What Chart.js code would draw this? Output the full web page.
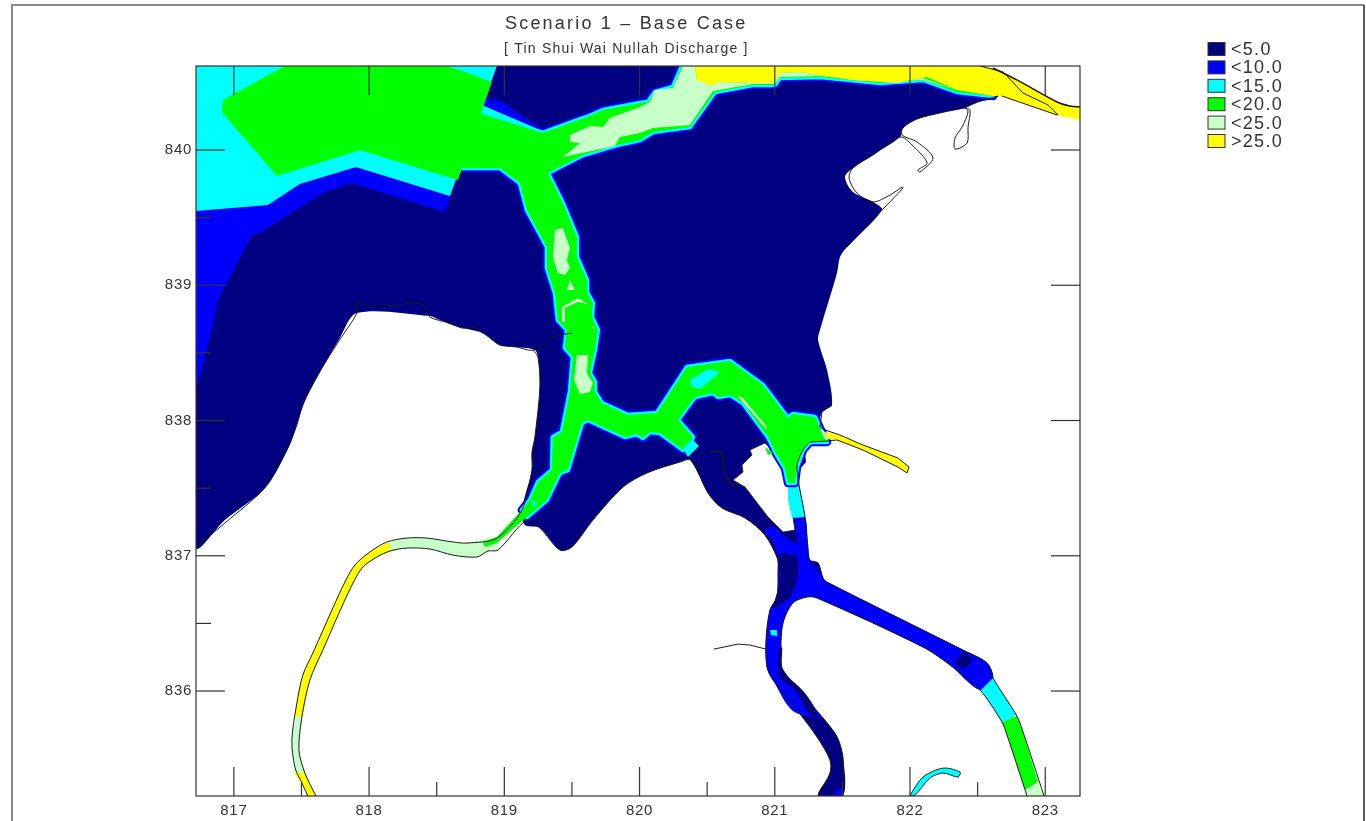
<!DOCTYPE html>
<html lang="en">
<head>
<meta charset="UTF-8">
<title>Scenario 1 - Base Case</title>
<script src="https://cdn.jsdelivr.net/npm/chart.js"></script>
<style>
  html, body { margin: 0; background: #fff; }
  canvas { display: block; }
</style>
</head>
<body>
<canvas id="map" width="1366" height="821"></canvas>
<script>
// Axis ticks
const xMajor = [817, 818, 819, 820, 821, 822, 823];
const xMinor = [817.5, 818.5, 819.5, 820.5, 821.5, 822.5];
const yMajor = [836, 837, 838, 839, 840];
const yMinor = [836.5, 837.5, 838.5, 839.5];

// Legend
const legendLabels = ['<5.0', '<10.0', '<15.0', '<20.0', '<25.0', '>25.0'];
const NAVY = '#000080', BLUE = '#0000ff', CYAN = '#00ffff', GREEN = '#00ff00', PALE = '#c8ffc8', YELLOW = '#ffff00';
const legendColours = [NAVY, BLUE, CYAN, GREEN, PALE, YELLOW];

// Contour bands, [easting, northing]
const seaNavy = [[816.72,840.621],[822.518,840.621],[822.651,840.399],[822.503,840.355],[822.407,840.311],[822.222,840.274],[822.052,840.229],[821.948,840.163],[821.926,840.096],[821.726,839.963],[821.578,839.867],[821.519,839.8],[821.578,839.689],[821.726,839.616],[821.793,839.556],[821.534,839.283],[821.482,839.209],[821.46,839.091],[821.334,838.669],[821.32,838.595],[821.386,838.373],[821.423,838.115],[821.349,838.063],[821.334,837.952],[821.386,837.841],[821.26,837.841],[821.208,837.782],[821.164,837.656],[821.223,837.286],[821.245,837.065],[821.26,836.968],[821.32,836.946],[821.357,836.835],[821.386,836.806],[822.392,836.303],[822.57,836.207],[822.614,836.096],[822.518,836.007],[822.296,836.192],[822.096,836.325],[821.312,836.688],[821.238,836.695],[821.134,836.651],[821.061,836.503],[821.046,836.325],[821.061,836.155],[821.445,835.689],[821.504,835.512],[821.504,835.224],[821.32,835.224],[821.408,835.394],[821.408,835.49],[821.312,835.66],[821.164,835.859],[820.987,836.081],[820.942,836.177],[820.935,836.377],[820.964,836.599],[821.016,836.695],[821.024,836.894],[821.024,836.968],[820.927,837.153],[820.78,837.279],[820.61,837.353],[820.506,837.464],[820.373,837.708],[820.299,837.693],[820.055,837.612],[819.878,837.508],[819.655,837.264],[819.5,837.065],[819.411,837.042],[819.263,837.205],[819.152,837.227],[819.13,837.338],[819.204,837.634],[819.204,837.76],[819.226,837.878],[819.263,838.248],[819.249,838.469],[819.226,838.521],[819.092,838.543],[818.967,838.558],[818.893,838.61],[818.82,838.654],[818.635,838.699],[818.524,838.743],[818.45,838.773],[817.91,838.795],[817.784,838.61],[817.547,838.189],[817.488,838.041],[817.414,837.819],[817.229,837.501],[816.933,837.264],[816.72,837.065]];
const island = [[820.927,837.834],[820.817,837.782],[820.831,837.745],[820.757,837.671],[820.765,837.619],[820.691,837.56],[820.78,837.508],[820.95,837.286],[821.061,837.175],[821.149,837.19],[821.098,837.538],[821.075,837.649],[821.016,837.745]];
const blueRiver = [[821.142,837.286],[821.223,837.286],[821.245,837.065],[821.26,836.968],[821.32,836.946],[821.357,836.835],[821.386,836.806],[822.392,836.303],[822.57,836.207],[822.614,836.096],[822.518,836.007],[822.296,836.192],[822.096,836.325],[821.312,836.688],[821.238,836.695],[821.134,836.651],[821.061,836.503],[821.046,836.325],[821.061,836.155],[821.334,835.815],[821.134,835.852],[820.987,836.081],[820.942,836.177],[820.935,836.377],[820.964,836.599],[821.016,836.695],[821.024,836.894],[821.001,837.079],[820.927,837.19],[821.001,837.212],[821.061,837.153],[821.164,837.094]];
const navyPatchA = [[821.024,837.02],[821.164,836.991],[821.164,836.82],[821.112,836.695],[821.016,836.621],[820.979,836.621],[821.001,836.673],[821.038,836.82]];
const navyPatchB = [[821.024,836.281],[821.053,836.325],[821.061,836.155],[821.223,835.985],[821.32,835.822],[821.26,835.822],[821.149,836.007],[821.038,836.103]];
const navyPatchC = [[822.333,836.207],[822.392,836.288],[822.459,836.229],[822.422,836.177],[822.355,836.177]];
const navyPatchD = [[821.26,836.946],[821.32,836.946],[821.334,836.872]];
const navyPatchE = [[821.208,837.745],[821.223,837.767],[821.231,837.693],[821.179,837.634],[821.164,837.686]];
const cyanSpeck = [[820.964,836.451],[821.016,836.451],[821.016,836.406],[820.972,836.414]];
const blueSpeck = [[821.445,835.268],[821.497,835.283],[821.497,835.231],[821.445,835.231]];
const cyanCreek = [[821.098,837.538],[821.172,837.538],[821.231,837.286],[821.127,837.279],[821.098,837.412]];
const cyanEast = [[822.525,836.007],[822.614,836.096],[822.79,835.822],[822.68,835.771]];
const greenEast = [[822.68,835.771],[822.79,835.815],[822.836,835.697],[822.947,835.327],[822.851,835.268],[822.717,835.675]];
const paleEast = [[822.851,835.268],[822.947,835.32],[822.991,835.224],[822.865,835.224]];
const cyanSmall = [[822,835.231],[822.096,835.364],[822.244,835.43],[822.37,835.401],[822.355,835.364],[822.244,835.394],[822.148,835.357],[822.037,835.231]];

const mainChannel = [[818.746,840.296],[819.285,840.126],[819.485,840.2],[819.611,840.244],[819.729,840.296],[820.003,840.348],[820.062,840.355],[820.114,840.429],[820.247,840.466],[820.314,840.621],[822.518,840.621],[822.614,840.399],[822.348,840.429],[822.096,840.518],[821.778,840.495],[821.334,840.54],[821.038,840.532],[821.001,840.481],[820.839,840.481],[820.558,840.429],[820.373,840.17],[820.099,840.133],[820.003,840.074],[819.833,840.037],[819.581,839.963],[819.322,839.83],[819.433,839.608],[819.537,839.357],[819.537,839.209],[819.611,839.039],[819.611,838.95],[819.655,838.869],[819.648,838.765],[819.692,838.669],[819.67,838.521],[819.633,838.351],[819.67,838.285],[819.67,838.211],[819.722,838.129],[819.914,838.041],[820.129,838.055],[820.351,838.396],[820.669,838.44],[820.913,838.262],[821.098,838.018],[821.134,838.048],[821.297,838.026],[821.334,837.944],[821.386,837.841],[821.26,837.841],[821.208,837.782],[821.164,837.656],[821.149,837.538],[821.098,837.538],[821.075,837.649],[821.016,837.745],[820.95,837.878],[820.765,838.129],[820.669,838.189],[820.58,838.174],[820.543,838.203],[820.41,838.174],[820.284,838.004],[820.395,837.878],[820.321,837.782],[820.151,837.907],[820.077,837.915],[820.025,837.87],[819.981,837.9],[819.892,837.878],[819.618,838.004],[819.574,837.981],[819.47,837.634],[819.411,837.612],[819.315,837.412],[819.167,837.286],[819.13,837.338],[819.189,837.412],[819.249,837.545],[819.352,837.634],[819.359,837.878],[819.426,837.915],[819.485,838.211],[819.507,838.469],[819.448,838.536],[819.463,838.669],[819.396,838.743],[819.374,838.943],[819.315,839.128],[819.315,839.283],[819.167,839.556],[819.115,839.756],[818.967,839.867],[818.797,839.867],[818.598,839.867]];
const nullahTip = [[819.13,837.338],[819.167,837.286],[818.945,837.094],[818.856,837.065],[818.842,837.102],[818.945,837.139]];
const blueWedge = [[818.857,840.392],[818.99,840.355],[819.212,840.2],[819.3,840.148],[818.819,840.237]];
const cyanWedge = [[818.834,840.333],[819.3,840.133],[818.819,840.237]];

const blueWest = [[816.72,838.225],[816.837,838.669],[816.882,838.891],[817.133,839.372],[817.178,839.379],[817.658,839.682],[817.873,839.756],[818.561,839.542],[818.945,840.621],[816.72,840.621]];
const cyanWest = [[816.72,839.549],[817.251,839.593],[817.488,839.749],[817.902,839.874],[818.598,839.66],[818.945,840.621],[816.72,840.621]];
const greenWest = [[816.919,840.37],[816.911,840.281],[817.318,839.808],[817.932,840],[818.657,839.778],[818.908,840.503],[818.672,840.592],[818.561,840.621],[817.377,840.621]];

const paleNorth = [[819.485,840.111],[819.633,840.177],[819.729,840.17],[819.781,840.237],[820.003,840.318],[820.077,840.355],[820.114,840.444],[820.247,840.458],[820.321,840.621],[820.41,840.621],[820.425,840.518],[820.58,840.503],[820.817,840.495],[820.987,840.495],[821.038,840.569],[821.186,840.577],[821.32,840.555],[821.578,840.518],[821.904,840.495],[822.096,840.532],[822.348,840.444],[822.096,840.518],[821.778,840.503],[821.334,840.547],[821.038,840.54],[821.001,840.488],[820.839,840.488],[820.543,840.436],[820.373,840.185],[820.099,840.163],[820.003,840.126],[819.855,840.096],[819.818,840.03],[819.433,839.948],[819.559,840.052],[819.485,840.059]];
const paleA = [[819.374,839.408],[819.433,839.423],[819.485,839.275],[819.463,839.187],[819.485,839.128],[819.448,839.076],[819.396,839.091],[819.359,839.209]];
const paleB = [[819.463,838.965],[819.485,839.039],[819.522,838.965]];
const paleChevron = [[819.426,838.839],[819.544,838.906],[819.618,838.861],[819.544,838.876],[819.448,838.832],[819.448,838.728],[819.426,838.728]];
const paleC = [[819.648,838.691],[819.67,838.691],[819.67,838.669]];
const paleD = [[819.537,838.484],[819.618,838.484],[819.611,838.351],[819.655,838.277],[819.633,838.211],[819.559,838.196],[819.515,838.299]];
const paleCurve = [[820.72,838.189],[820.765,838.166],[820.942,837.952],[820.942,837.93],[820.794,838.1]];
const paleMouth = [[821.334,837.944],[821.371,837.915],[821.386,837.848],[821.364,837.87]];
const cyanCurve = [[820.373,838.299],[820.506,838.381],[820.595,838.359],[820.447,838.233],[820.388,838.248]];
const cyanStub = [[820.388,837.863],[820.439,837.811],[820.358,837.73],[820.321,837.797]];
const cyanSpot = [[819.204,837.412],[819.241,837.397],[819.212,837.353]];
const greenIsland = [[820.927,837.804],[820.987,837.76],[820.95,837.745]];

const paleNullah = [[818.146,837.102],[818.28,837.131],[818.428,837.131],[818.62,837.102],[818.723,837.094],[818.945,837.139],[818.953,837.042],[818.879,837.035],[818.797,836.991],[818.62,837.005],[818.45,837.05],[818.28,837.057],[818.154,837.035]];
const yellowNullah = [[818.146,837.102],[818.006,837.028],[817.895,836.932],[817.821,836.806],[817.732,836.614],[817.584,836.281],[817.51,836.118],[817.466,835.911],[817.459,835.808],[817.503,835.808],[817.562,836.081],[817.658,836.303],[817.843,836.72],[817.947,836.909],[818.058,836.991],[818.154,837.035]];
const paleBend = [[817.459,835.808],[817.429,835.638],[817.451,835.438],[817.444,835.394],[817.525,835.394],[817.481,835.564],[817.503,835.808]];
const yellowFoot = [[817.444,835.394],[817.503,835.32],[817.547,835.224],[817.607,835.224],[817.525,835.394]];
const yellowNorth = [[820.41,840.621],[820.425,840.518],[820.543,840.473],[820.58,840.503],[820.817,840.495],[820.987,840.495],[821.038,840.569],[821.186,840.577],[821.32,840.555],[821.578,840.518],[821.904,840.495],[822.126,840.54],[822.348,840.444],[822.614,840.399],[822.68,840.399],[823.087,840.259],[823.257,840.222],[823.257,840.318],[823.183,840.325],[823.087,840.355],[822.79,840.518],[822.614,840.606],[822.518,840.621]];
const yellowStrip = [[821.371,837.915],[821.482,837.893],[821.652,837.819],[821.911,837.723],[821.993,837.656],[821.978,837.612],[821.911,837.656],[821.652,837.782],[821.46,837.856],[821.386,837.863]];

// Coast lines
const coastWest = [[816.72,837.065],[816.933,837.242],[817.229,837.501],[817.362,837.723],[817.466,837.967],[817.525,838.174],[817.71,838.484],[817.821,838.654],[817.91,838.795],[817.917,838.884],[818.021,838.839],[818.095,838.861],[818.206,838.846],[818.28,838.869],[818.398,838.854],[818.45,838.765],[818.598,838.721],[818.686,838.684],[818.805,838.684],[818.893,838.61],[818.967,838.558],[819.092,838.543],[819.212,838.521],[819.352,838.617],[819.5,838.647]];
const coastBay = [[819.212,838.521],[819.249,838.469],[819.263,838.248],[819.226,837.878],[819.204,837.76],[819.204,837.634],[819.13,837.338],[818.945,837.131],[818.723,837.094],[818.62,837.102],[818.428,837.131],[818.28,837.131],[818.132,837.102],[818.006,837.028],[817.895,836.932],[817.821,836.806],[817.732,836.614],[817.584,836.281],[817.51,836.118],[817.466,835.911],[817.429,835.638],[817.451,835.438],[817.503,835.32],[817.547,835.224]];
const coastSouth = [[817.607,835.224],[817.525,835.394],[817.481,835.564],[817.503,835.808],[817.562,836.081],[817.658,836.303],[817.843,836.72],[817.947,836.909],[818.058,836.991],[818.154,837.035],[818.28,837.057],[818.45,837.05],[818.62,837.005],[818.797,836.991],[818.879,837.035],[818.953,837.042],[819.167,837.264],[819.263,837.205],[819.411,837.042],[819.5,837.065],[819.655,837.264],[819.878,837.508],[820.055,837.612],[820.299,837.693],[820.388,837.708],[820.506,837.464],[820.61,837.353],[820.78,837.279],[820.927,837.153],[821.024,836.968],[821.024,836.894],[821.016,836.695],[820.964,836.599],[820.935,836.377],[820.942,836.177],[820.987,836.081],[821.164,835.859],[821.312,835.66],[821.408,835.49],[821.408,835.394],[821.32,835.224]];
const riverSouth = [[821.504,835.224],[821.504,835.512],[821.445,835.689],[821.061,836.155],[821.046,836.325],[821.061,836.503],[821.134,836.651],[821.238,836.695],[821.312,836.688],[822.096,836.325],[822.296,836.192],[822.518,836.007],[822.68,835.771],[822.717,835.675],[822.851,835.268],[822.865,835.224]];
const riverNorth = [[821.26,837.841],[821.208,837.782],[821.164,837.656],[821.223,837.286],[821.245,837.065],[821.26,836.968],[821.32,836.946],[821.357,836.835],[821.386,836.806],[822.392,836.303],[822.57,836.207],[822.614,836.096],[822.79,835.815],[822.836,835.697],[822.991,835.224]];
const stripCoast = [[821.26,837.841],[821.386,837.848],[821.46,837.856],[821.652,837.782],[821.911,837.656],[821.978,837.612],[821.993,837.656],[821.911,837.723],[821.652,837.819],[821.482,837.893],[821.371,837.93],[821.334,837.952],[821.349,838.063],[821.423,838.115]];
const coastNorthEast = [[822.651,840.399],[822.503,840.355],[822.407,840.311],[822.444,840.296],[822.429,840.17],[822.422,840.052],[822.333,840.007],[822.333,840.089],[822.385,840.17],[822.429,840.281],[822.407,840.311],[822.222,840.274],[822.052,840.229],[821.948,840.163],[821.941,840.111],[822.052,840.059],[822.17,839.941],[822.074,839.837],[822.059,839.852],[822.126,839.904],[822.015,840.037],[821.926,840.096],[821.726,839.963],[821.578,839.867],[821.549,839.793],[821.608,839.682],[821.726,839.616],[821.852,839.667],[821.941,839.726],[821.948,839.719],[821.793,839.556],[821.534,839.283]];
const headland = [[822.68,840.399],[823.087,840.259]];
const spit = [[822.518,840.621],[822.688,840.577],[822.836,840.421],[823.021,840.333],[823.095,840.259]];
const shoreTop = [[822.614,840.606],[822.79,840.518],[823.087,840.355],[823.183,840.325],[823.257,840.318]];
const inlet = [[820.521,837.767],[820.58,837.774],[820.61,837.76],[820.632,837.612],[820.691,837.523],[820.728,837.538]];
const stub = [[820.55,836.31],[820.728,836.347],[820.817,836.34],[820.935,836.31]];

const toPoints = pts => pts.map(p => ({ x: p[0], y: p[1] }));
const CURVE = 0.3;

// filled band, closed by repeating the first point
function band(pts, colour, edgeWidth, edgeColour, tension) {
    return {
        data: toPoints(pts.concat([pts[0]])),
        showLine: true,
        fill: 'shape',
        backgroundColor: colour,
        borderColor: edgeColour || colour,
        borderWidth: edgeWidth || 0,
        borderJoinStyle: 'round',
        tension: tension || 0,
        pointRadius: 0
    };
}

function coast(pts, width, tension) {
    return {
        data: toPoints(pts),
        showLine: true,
        fill: false,
        borderColor: '#1a1a1a',
        borderWidth: width || 1,
        tension: tension || 0,
        pointRadius: 0
    };
}

// painted bottom first
const layers = [
    band(seaNavy, NAVY, 0, null, CURVE),
    band(island, '#ffffff', 1, '#333333'),
    band(blueRiver, BLUE, 0, null, CURVE),
    band(navyPatchA, NAVY, 0, null, CURVE), band(navyPatchB, NAVY, 0, null, CURVE), band(navyPatchC, NAVY, 0, null, CURVE), band(navyPatchD, NAVY), band(navyPatchE, NAVY),
    band(cyanSpeck, CYAN), band(blueSpeck, BLUE),
    band(cyanCreek, CYAN), band(cyanEast, CYAN), band(greenEast, GREEN), band(paleEast, PALE),
    band(cyanSmall, CYAN, 1, '#222222', CURVE),
    band(mainChannel, BLUE, 8.5),
    band(mainChannel, CYAN, 4.5),
    band(blueWedge, BLUE), band(cyanWedge, CYAN),
    band(mainChannel, GREEN),
    band(blueWest, BLUE), band(cyanWest, CYAN), band(greenWest, GREEN),
    band(paleNullah, PALE, 0, null, CURVE), band(yellowNullah, YELLOW, 0, null, CURVE), band(paleBend, PALE, 0, null, CURVE), band(yellowFoot, YELLOW),
    band(nullahTip, GREEN),
    band(paleNorth, PALE), band(paleA, PALE), band(paleB, PALE), band(paleChevron, PALE), band(paleC, PALE),
    band(paleD, PALE), band(paleCurve, PALE), band(paleMouth, PALE),
    band(cyanCurve, CYAN), band(cyanStub, CYAN), band(cyanSpot, CYAN), band(greenIsland, GREEN),
    band(yellowNorth, YELLOW), band(yellowStrip, YELLOW),
    coast(coastWest, 1, CURVE), coast(coastBay, 1, CURVE), coast(coastSouth, 1, CURVE), coast(riverSouth, 1, CURVE), coast(riverNorth, 1, CURVE),
    coast(stripCoast), coast(coastNorthEast, 1, CURVE), coast(headland), coast(spit), coast(shoreTop, 1.5, CURVE),
    coast(inlet, 1.5, CURVE), coast(stub)
];
// Chart.js paints high order first
layers.forEach((d, i) => { d.order = layers.length - i; });

// frame, inward ticks, titles and legend
const mapFurniture = {
    id: 'mapFurniture',
    beforeDraw(chart) {
        chart.ctx.letterSpacing = '0.7px';
    },
    afterDatasetsDraw(chart) {
        const { ctx, chartArea: a, scales: { x, y } } = chart;
        ctx.save();
        ctx.strokeStyle = '#333333';
        ctx.lineWidth = 1.2;
        const seg = (x0, y0, x1, y1) => {
            ctx.beginPath();
            ctx.moveTo(x0, y0);
            ctx.lineTo(x1, y1);
            ctx.stroke();
        };
        xMajor.forEach(v => {
            const px = x.getPixelForValue(v);
            seg(px, a.bottom, px, a.bottom - 29);
            seg(px, a.top, px, a.top + 29);
        });
        xMinor.forEach(v => {
            const px = x.getPixelForValue(v);
            seg(px, a.bottom, px, a.bottom - 14);
        });
        yMajor.forEach(v => {
            const py = y.getPixelForValue(v);
            seg(a.left, py, a.left + 29, py);
            seg(a.right, py, a.right - 29, py);
        });
        yMinor.forEach(v => {
            const py = y.getPixelForValue(v);
            seg(a.left, py, a.left + 15, py);
        });
        ctx.strokeRect(a.left, a.top, a.right - a.left, a.bottom - a.top);

        ctx.strokeStyle = '#888888';
        ctx.lineWidth = 2;
        ctx.beginPath();
        ctx.moveTo(12, 821);
        ctx.lineTo(12, 5);
        ctx.lineTo(1364, 5);
        ctx.stroke();
        ctx.strokeStyle = '#222222';
        ctx.lineWidth = 1.5;
        ctx.beginPath();
        ctx.moveTo(1364, 5);
        ctx.lineTo(1364, 821);
        ctx.stroke();

        ctx.fillStyle = '#333333';
        ctx.textBaseline = 'middle';
        ctx.textAlign = 'left';
        ctx.font = '18px "Liberation Sans"';
        ctx.letterSpacing = '2.2px';
        ctx.fillText('Scenario 1 – Base Case', 505, 24);
        ctx.font = '14px "Liberation Sans"';
        ctx.letterSpacing = '1.22px';
        ctx.fillText('[ Tin Shui Wai Nullah Discharge ]', 504, 49);

        ctx.font = '18px "Liberation Sans"';
        ctx.letterSpacing = '1.3px';
        legendLabels.forEach((label, i) => {
            const cy = 49 + i * 18.4;
            ctx.fillStyle = legendColours[i];
            ctx.fillRect(1208, cy - 6.5, 17, 13);
            ctx.strokeStyle = '#333333';
            ctx.lineWidth = 1;
            ctx.strokeRect(1208, cy - 6.5, 17, 13);
            ctx.fillStyle = '#333333';
            ctx.fillText(label, 1231, cy + 1);
        });
        ctx.restore();
    }
};

const tickFont = { family: '"Liberation Sans"', size: 15 };

new Chart(document.getElementById('map'), {
    type: 'scatter',
    data: { datasets: layers },
    plugins: [mapFurniture],
    options: {
        responsive: false,
        animation: false,
        events: [],
        devicePixelRatio: 1,
        layout: { padding: { left: 0, top: 66, right: 286, bottom: 0 } },
        plugins: { legend: { display: false }, tooltip: { enabled: false } },
        scales: {
            x: {
                type: 'linear',
                min: 816.72,
                max: 823.257,
                grid: { display: false, drawTicks: false },
                border: { display: false },
                afterBuildTicks: s => { s.ticks = xMajor.map(v => ({ value: v })); },
                afterFit: s => { s.height = 25; },
                ticks: { color: '#333333', font: tickFont, padding: 6, maxRotation: 0, callback: v => String(v) }
            },
            y: {
                type: 'linear',
                min: 835.224,
                max: 840.621,
                grid: { display: false, drawTicks: false },
                border: { display: false },
                afterBuildTicks: s => { s.ticks = yMajor.map(v => ({ value: v })); },
                afterFit: s => { s.width = 196; },
                ticks: { color: '#333333', font: tickFont, padding: 4, callback: v => String(v) }
            }
        }
    }
});
</script>
</body>
</html>
